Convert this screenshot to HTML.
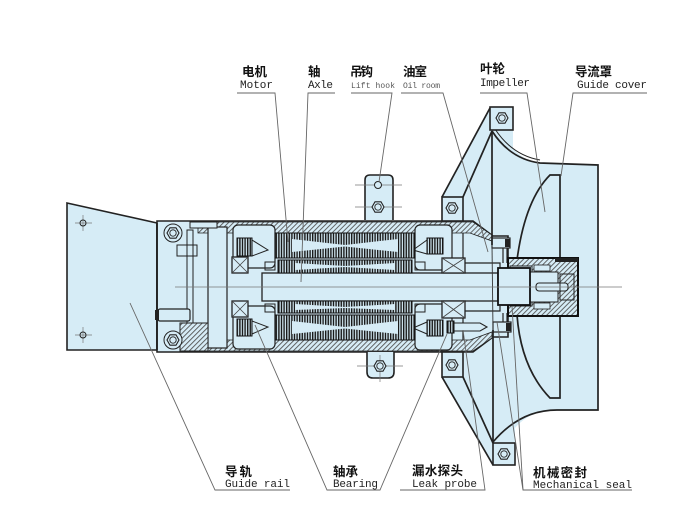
<!DOCTYPE html>
<html><head><meta charset="utf-8"><style>
html,body{margin:0;padding:0;background:#fff;width:685px;height:505px;overflow:hidden}
svg{display:block}
.cn{font-family:"Liberation Sans","Noto Sans CJK SC",sans-serif;font-size:12.5px;font-weight:bold;fill:#111}
.en{font-family:"Liberation Mono",monospace;font-size:11px;fill:#222}
.ens{font-family:"Liberation Mono",monospace;font-size:8px;fill:#555}
</style></head><body>
<svg width="685" height="505" viewBox="0 0 685 505" xmlns="http://www.w3.org/2000/svg">
<defs>
<pattern id="h" width="3.5" height="3.5" patternUnits="userSpaceOnUse" patternTransform="rotate(45)">
<rect width="3.5" height="3.5" fill="#d6ecf6"/>
<rect width="0.9" height="3.5" fill="#555"/>
</pattern>
<pattern id="s" width="2.6" height="10" patternUnits="userSpaceOnUse">
<rect width="2.6" height="10" fill="#d0e6f0"/>
<rect width="1.4" height="10" fill="#1a1a1a"/>
</pattern>
</defs>

<!-- guide rail plate -->
<polygon points="67,203 157,223 157,350 67,350" fill="#d6ecf6" stroke="#222" stroke-width="1.6"/>
<g stroke="#777" stroke-width="0.7">
<line x1="75" y1="223" x2="92" y2="223"/><line x1="83" y1="215" x2="83" y2="231"/>
<line x1="75" y1="335" x2="92" y2="335"/><line x1="83" y1="327" x2="83" y2="343"/>
</g>
<circle cx="83" cy="223" r="3" fill="none" stroke="#222"/>
<circle cx="83" cy="335" r="3" fill="none" stroke="#222"/>

<!-- bracket / guide cover fill -->
<path d="M490,107 L513,107 L513,148 Q522,160 540,163 L598,165 L598,410 L557,410 Q530,410 515,428 L515,465 L493,465 L442,377 L442,352 L470,352 L470,221 L442,221 L442,197 Z" fill="#d6ecf6"/>

<!-- housing -->
<path d="M157,221 L473,221 L493,236 L508,236 L508,337 L493,337 L473,352 L157,352 Z" fill="#d6ecf6" stroke="#222" stroke-width="1.6"/>
<path d="M198,222 L473,222 L492,235 L492,241 L470,233 L198,233 Z" fill="url(#h)" stroke="#222" stroke-width="0.8"/>
<path d="M198,340 L470,340 L492,332 L492,338 L473,351 L198,351 Z" fill="url(#h)" stroke="#222" stroke-width="0.8"/>

<!-- left end details -->
<rect x="208" y="227" width="19" height="121" fill="#d6ecf6" stroke="#222" stroke-width="1.2"/>
<rect x="187" y="230" width="6" height="95" fill="none" stroke="#222" stroke-width="1"/>
<rect x="180" y="323" width="28" height="28" fill="url(#h)" stroke="#222" stroke-width="1"/>
<rect x="190" y="222" width="27" height="6" fill="#d6ecf6" stroke="#222" stroke-width="1"/>
<rect x="177" y="245" width="20" height="11" fill="none" stroke="#222" stroke-width="1"/>
<rect x="158" y="309" width="32" height="12" rx="2" fill="#d6ecf6" stroke="#222" stroke-width="1.2"/>
<rect x="155" y="310" width="4" height="10" fill="#222"/>
<line x1="157" y1="223" x2="157" y2="350" stroke="#222" stroke-width="1.8"/>
<circle cx="173" cy="233" r="9" fill="#d6ecf6" stroke="#222" stroke-width="1"/>
<circle cx="173" cy="340" r="9" fill="#d6ecf6" stroke="#222" stroke-width="1"/>

<!-- end bells -->
<rect x="233" y="225" width="42" height="43" rx="5" fill="#d6ecf6" stroke="#222" stroke-width="1.2"/>
<rect x="233" y="306" width="42" height="43" rx="5" fill="#d6ecf6" stroke="#222" stroke-width="1.2"/>
<rect x="415" y="225" width="37" height="45" rx="5" fill="#d6ecf6" stroke="#222" stroke-width="1.2"/>
<rect x="415" y="304" width="37" height="46" rx="5" fill="#d6ecf6" stroke="#222" stroke-width="1.2"/>
<rect x="237" y="238" width="15" height="18" fill="url(#s)" stroke="#111"/>
<rect x="237" y="319" width="15" height="17" fill="url(#s)" stroke="#111"/>
<rect x="427" y="238" width="16" height="16" fill="url(#s)" stroke="#111"/>
<rect x="427" y="320" width="16" height="16" fill="url(#s)" stroke="#111"/>
<g fill="none" stroke="#222" stroke-width="1">
<path d="M265,262 h10 v8 h-10 z"/><path d="M265,304 h10 v8 h-10 z"/>
<path d="M415,262 h10 v8 h-10 z"/><path d="M415,304 h10 v8 h-10 z"/>
<path d="M252,240 L268,250 L252,256"/><path d="M252,321 L268,327 L252,334"/>
<path d="M427,240 L413,250 L427,254"/><path d="M427,322 L413,328 L427,334"/>
</g>

<!-- shaft -->
<rect x="262" y="273" width="236" height="28" fill="#d6ecf6" stroke="#222" stroke-width="1.3"/>

<!-- stator / rotor -->
<rect x="275" y="233" width="140" height="25" fill="url(#s)" stroke="#111" stroke-width="1"/>
<rect x="278" y="260" width="134" height="13" fill="url(#s)" stroke="#111" stroke-width="1"/>
<rect x="278" y="301" width="134" height="12" fill="url(#s)" stroke="#111" stroke-width="1"/>
<rect x="275" y="315" width="140" height="25" fill="url(#s)" stroke="#111" stroke-width="1"/>
<g fill="#d6ecf6">
<polygon points="292,239 345,245 398,239 398,252 345,246.5 292,252"/>
<polygon points="295,263 345,266 395,263 395,270 345,267 295,270"/>
<polygon points="295,304 345,307 395,304 395,310 345,308 295,310"/>
<polygon points="292,321 345,327 398,321 398,334 345,328.5 292,334"/>
</g>

<!-- bearings -->
<g fill="#d6ecf6" stroke="#222" stroke-width="1.3">
<rect x="232" y="257" width="16" height="16"/><rect x="232" y="301" width="16" height="16"/>
<rect x="442" y="258" width="23" height="15"/><rect x="442" y="301" width="23" height="17"/>
</g>
<g stroke="#444" stroke-width="0.8">
<path d="M232,257 L248,273 M248,257 L232,273 M232,301 L248,317 M248,301 L232,317"/>
<path d="M442,258 L465,273 M465,258 L442,273 M442,301 L465,318 M465,301 L442,318"/>
</g>

<!-- oil chamber details -->
<g fill="none" stroke="#222" stroke-width="1.2">
<path d="M463,233 L463,258"/><path d="M465,263 L500,263 L500,268"/>
<path d="M463,318 L463,340"/><path d="M465,311 L500,311 L500,306"/>
<path d="M503,248 L503,263 M507,248 L507,263"/>
<path d="M503,313 L503,324 M507,313 L507,324"/>
</g>
<rect x="492" y="238" width="18" height="10" fill="#d6ecf6" stroke="#222" stroke-width="1.2"/>
<rect x="505" y="239" width="5" height="8" fill="#222"/>
<polygon points="453,323 480,323 487,327 480,331 453,331" fill="#d6ecf6" stroke="#222" stroke-width="1.1"/>
<rect x="447" y="321" width="7" height="12" fill="url(#s)" stroke="#111"/>
<rect x="493" y="322" width="18" height="10" fill="#d6ecf6" stroke="#222" stroke-width="1.2"/>
<rect x="506" y="323" width="5" height="8" fill="#222"/>

<!-- guide cover & brackets lines (behind hub) -->
<g fill="none" stroke="#222" stroke-width="1.7">
<path d="M490,108 L442,197"/><path d="M463,197 L492,131"/>
<path d="M442,377 L493,465"/><path d="M463,377 L493,443"/>
<path d="M492,131 L492,245"/><path d="M493,330 L493,443"/>
<path d="M492,131 Q510,159 540,163 L598,165 L598,410 L557,410 Q520,410 493,442"/>
<path d="M495,129 Q512,155 540,160" stroke-width="1"/>
<path d="M560,260 L560,175 L550,175 Q525,200 517,260"/>
<path d="M517,315 Q521,368 550,398 L560,398 L560,313"/>
</g>
<line x1="492" y1="245" x2="493" y2="330" stroke="#333" stroke-width="0.9"/>

<!-- mechanical seal housing -->
<rect x="508" y="258" width="70" height="58" fill="url(#h)" stroke="#111" stroke-width="2"/>
<rect x="510" y="266" width="22" height="40" fill="#d6ecf6" stroke="#222" stroke-width="1"/>
<rect x="530" y="272" width="28" height="30" fill="#d6ecf6" stroke="#222" stroke-width="1"/>
<rect x="534" y="265" width="16" height="6" fill="#d6ecf6" stroke="#222" stroke-width="0.8"/>
<rect x="534" y="303" width="16" height="6" fill="#d6ecf6" stroke="#222" stroke-width="0.8"/>
<rect x="536" y="283" width="32" height="8" rx="3" fill="#d6ecf6" stroke="#222" stroke-width="1.1"/>
<rect x="560" y="274" width="14" height="26" fill="none" stroke="#222" stroke-width="1"/>
<rect x="555" y="258" width="23" height="4" fill="#222"/>
<rect x="498" y="268" width="32" height="37" fill="#d6ecf6" stroke="#111" stroke-width="1.8"/>

<!-- centerline -->
<line x1="175" y1="287" x2="622" y2="287" stroke="#777" stroke-width="0.7"/>

<g fill="#d6ecf6" stroke="#222" stroke-width="1.6">
<rect x="490" y="107" width="23" height="23"/>
<rect x="442" y="197" width="21" height="24"/>
<rect x="442" y="352" width="21" height="25"/>
<rect x="493" y="443" width="22" height="22"/>
<path d="M365,220 L365,180 Q365,175 370,175 L388,175 Q393,175 393,180 L393,220"/>
<path d="M367,352 L367,372 Q367,378 373,378 L388,378 Q394,378 394,372 L394,352"/>
</g>
<g stroke="#777" stroke-width="0.7">
<line x1="355" y1="185" x2="402" y2="185"/><line x1="355" y1="207" x2="402" y2="207"/>
<line x1="357" y1="366" x2="403" y2="366"/><line x1="380" y1="355" x2="380" y2="382"/>
</g>
<circle cx="378" cy="185" r="3.5" fill="#d6ecf6" stroke="#222"/>

<!-- nuts -->
<g fill="#d6ecf6" stroke="#222" stroke-width="1.1">
<polygon points="179,233 176,238.2 170,238.2 167,233 170,227.8 176,227.8"/>
<polygon points="179,340 176,345.2 170,345.2 167,340 170,334.8 176,334.8"/>
<polygon points="384,207 381,212.2 375,212.2 372,207 375,201.8 381,201.8"/>
<polygon points="386,366 383,371.2 377,371.2 374,366 377,360.8 383,360.8"/>
<polygon points="458,208 455,213.2 449,213.2 446,208 449,202.8 455,202.8"/>
<polygon points="508,118 505,123.2 499,123.2 496,118 499,112.8 505,112.8"/>
<polygon points="458,365 455,370.2 449,370.2 446,365 449,359.8 455,359.8"/>
<polygon points="510,454 507,459.2 501,459.2 498,454 501,448.8 507,448.8"/>
</g>
<g fill="none" stroke="#222" stroke-width="0.9">
<circle cx="173" cy="233" r="3.2"/><circle cx="173" cy="340" r="3.2"/>
<circle cx="378" cy="207" r="3.2"/><circle cx="380" cy="366" r="3.2"/>
<circle cx="452" cy="208" r="3.2"/><circle cx="502" cy="118" r="3.2"/>
<circle cx="452" cy="365" r="3.2"/><circle cx="504" cy="454" r="3.2"/>
</g>

<!-- leader lines -->
<g stroke="#666" stroke-width="0.9" fill="none">
<polyline points="237,93 275,93 288,242"/>
<polyline points="335,93 308,93 301,282"/>
<polyline points="351,93 392,93 379,182"/>
<polyline points="401,93 443,93 488,252"/>
<polyline points="480,93 527,93 545,212"/>
<polyline points="647,93 573,93 561,176"/>
<polyline points="290,490 215,490 130,303"/>
<polyline points="255,325 327,490 380,490 447,334"/>
<polyline points="400,490 485,490 463,330"/>
<polyline points="632,490 523,490 497,322"/>
<line x1="523" y1="490" x2="512" y2="306"/>
</g>

<!-- labels -->
<text class="cn" x="242" y="76" textLength="25">电机</text>
<text class="en" x="240" y="88" textLength="33">Motor</text>
<text class="cn" x="308" y="76">轴</text>
<text class="en" x="308" y="88" textLength="25">Axle</text>
<text class="cn" x="350" y="76" textLength="23">吊钩</text>
<text class="ens" x="351" y="88" textLength="44">Lift hook</text>
<text class="cn" x="403" y="76" textLength="24">油室</text>
<text class="ens" x="403" y="88" textLength="37">Oil room</text>
<text class="cn" x="480" y="73" textLength="25">叶轮</text>
<text class="en" x="480" y="86" textLength="50">Impeller</text>
<text class="cn" x="575" y="76" textLength="37">导流罩</text>
<text class="en" x="577" y="88" textLength="70">Guide cover</text>
<text class="cn" x="225" y="476" textLength="27">导轨</text>
<text class="en" x="225" y="487" textLength="65">Guide rail</text>
<text class="cn" x="333" y="476" textLength="25">轴承</text>
<text class="en" x="333" y="487" textLength="45">Bearing</text>
<text class="cn" x="412" y="475" textLength="51">漏水探头</text>
<text class="en" x="412" y="487" textLength="65">Leak probe</text>
<text class="cn" x="533" y="477" textLength="54">机械密封</text>
<text class="en" x="533" y="488" textLength="99">Mechanical seal</text>
</svg>
</body></html>
